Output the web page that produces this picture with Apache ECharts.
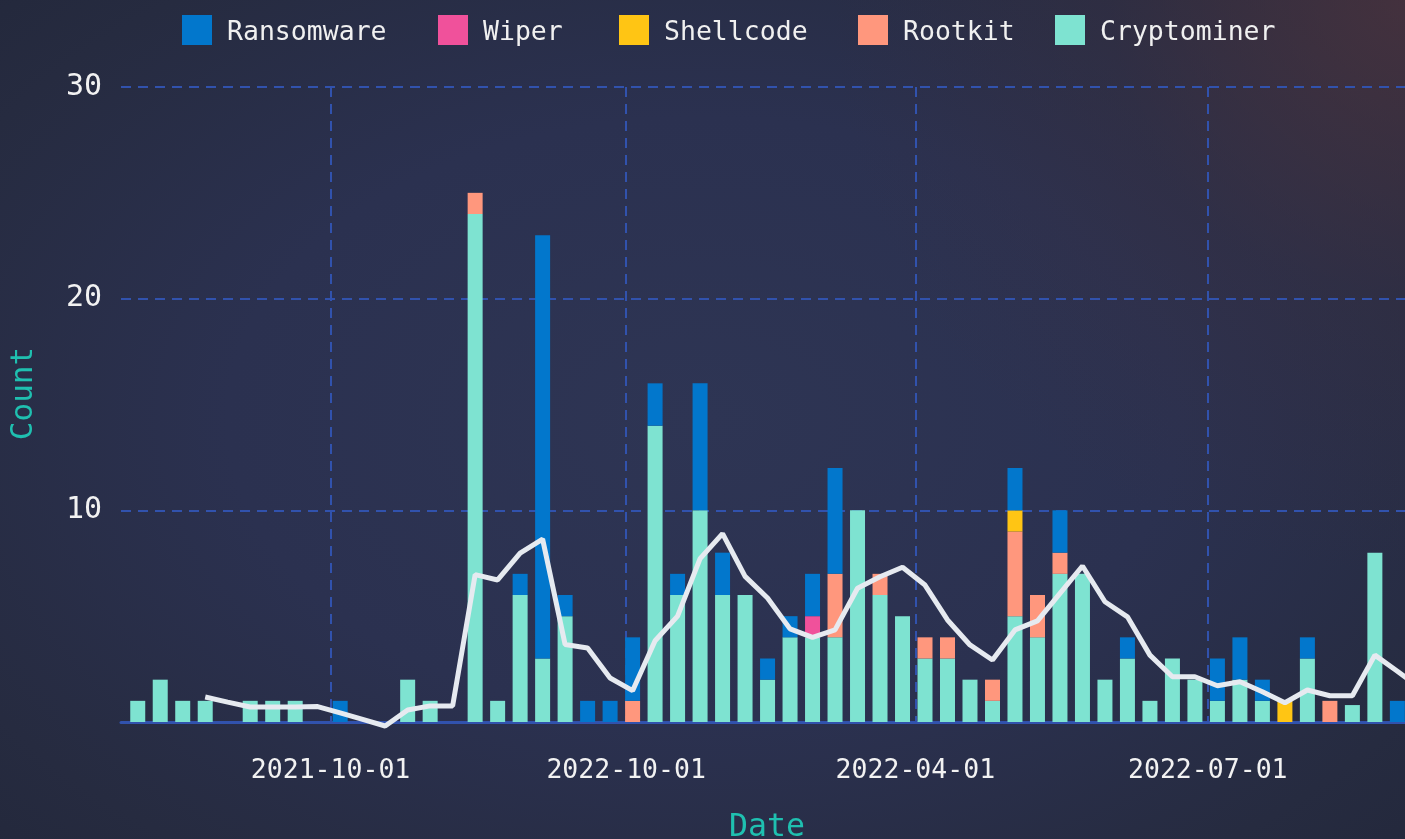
<!DOCTYPE html>
<html>
<head>
<meta charset="utf-8">
<script src="https://cdn.jsdelivr.net/npm/echarts@6/dist/echarts.min.js"></script>
<style>
  html, body { margin:0; padding:0; width:1405px; height:839px; overflow:hidden; }
  body {
    background:
      radial-gradient(circle at 100% 0%, rgba(78,52,62,0.75) 0%, rgba(60,48,64,0.35) 18%, rgba(0,0,0,0) 35%),
      radial-gradient(ellipse 75% 80% at 50% 50%, #2e3554 0%, #2b3150 45%, #262b40 80%, #22273a 100%);
  }
  #chart { width:1405px; height:839px; }
</style>
</head>
<body>
<div id="chart"></div>
<script>
// ---- Data ----
const weeks = [
  '2021-08-02','2021-08-09','2021-08-16','2021-08-23','2021-08-30','2021-09-06','2021-09-13','2021-09-20','2021-09-27',
  '2021-10-04','2021-10-11','2021-10-18','2021-10-25','2021-11-01','2021-11-08','2021-11-15','2021-11-22','2021-11-29',
  '2021-12-06','2021-12-13','2021-12-20','2021-12-27','2022-01-03','2022-01-10','2022-01-17','2022-01-24','2022-01-31',
  '2022-02-07','2022-02-14','2022-02-21','2022-02-28','2022-03-07','2022-03-14','2022-03-21','2022-03-28','2022-04-04',
  '2022-04-11','2022-04-18','2022-04-25','2022-05-02','2022-05-09','2022-05-16','2022-05-23','2022-05-30','2022-06-06',
  '2022-06-13','2022-06-20','2022-06-27','2022-07-04','2022-07-11','2022-07-18','2022-07-25','2022-08-01','2022-08-08',
  '2022-08-15','2022-08-22','2022-08-29'
];
const cryptominer = [1,2,1,1,0,1,1,1,0, 0,0,0,2,1,0,24,1,6, 3,5,0,0,0,14,6,10,6, 6,2,4,4,4,10,6,5,3, 3,2,1,5,4,7,7,2,3, 1,3,2,1,2,1,0,3,0, 0.8,8,0];
const rootkit     = [0,0,0,0,0,0,0,0,0, 0,0,0,0,0,0,1,0,0, 0,0,0,0,1,0,0,0,0, 0,0,0,0,3,0,1,0,1, 1,0,1,4,2,1,0,0,0, 0,0,0,0,0,0,0,0,1, 0,0,0];
const shellcode   = [0,0,0,0,0,0,0,0,0, 0,0,0,0,0,0,0,0,0, 0,0,0,0,0,0,0,0,0, 0,0,0,0,0,0,0,0,0, 0,0,0,1,0,0,0,0,0, 0,0,0,0,0,0,1,0,0, 0,0,0];
const wiper       = [0,0,0,0,0,0,0,0,0, 0,0,0,0,0,0,0,0,0, 0,0,0,0,0,0,0,0,0, 0,0,0,1,0,0,0,0,0, 0,0,0,0,0,0,0,0,0, 0,0,0,0,0,0,0,0,0, 0,0,0];
const ransomware  = [0,0,0,0,0,0,0,0,0, 1,0,0,0,0,0,0,0,1, 20,1,1,1,3,2,1,6,2, 0,1,1,2,5,0,0,0,0, 0,0,0,2,0,2,0,0,1, 0,0,0,2,2,1,0,1,0, 0,0,1];
// moving-average line (starts at week 2021-08-23)
const avgWeeks = [
  '2021-08-23','2021-08-30','2021-09-06','2021-09-13','2021-09-20','2021-09-27','2021-10-04','2021-10-11','2021-10-18',
  '2021-10-25','2021-11-01','2021-11-08','2021-11-15','2021-11-22','2021-11-29','2021-12-06','2021-12-13','2021-12-20',
  '2021-12-27','2022-01-03','2022-01-10','2022-01-17','2022-01-24','2022-01-31','2022-02-07','2022-02-14','2022-02-21',
  '2022-02-28','2022-03-07','2022-03-14','2022-03-21','2022-03-28','2022-04-04','2022-04-11','2022-04-18','2022-04-25',
  '2022-05-02','2022-05-09','2022-05-16','2022-05-23','2022-05-30','2022-06-06','2022-06-13','2022-06-20','2022-06-27',
  '2022-07-04','2022-07-11','2022-07-18','2022-07-25','2022-08-01','2022-08-08','2022-08-15','2022-08-22','2022-08-29',
  '2022-09-05'
];
const avgValues = [1.18,0.94,0.71,0.71,0.71,0.73,0.43,0.12,-0.19,
  0.57,0.76,0.76,6.96,6.71,7.98,8.64,3.66,3.5,
  2.08,1.48,3.84,5.0,7.72,8.9,6.88,5.86,4.4,
  4.0,4.35,6.32,6.86,7.31,6.47,4.82,3.64,2.93,
  4.35,4.78,6.08,7.37,5.68,4.97,3.16,2.14,2.14,
  1.71,1.9,1.43,0.91,1.51,1.24,1.24,3.16,2.4,
  1.6];
const tickDates  = ['2021-10-01','2022-01-01','2022-04-01','2022-07-01'];
const tickLabels = ['2021-10-01','2022-10-01','2022-04-01','2022-07-01'];
const yTicks = [0,10,20,30];
const legendNames = ['Ransomware','Wiper','Shellcode','Rootkit','Cryptominer'];

// ---- Chart ----
const P = (s) => { const [y,m,d] = s.split('-').map(Number); return Date.UTC(y, m-1, d); };
const tickTs = tickDates.map(P);
const FONT = 'DejaVu Sans Mono';
const colors = {
  Ransomware:'#0277cc', Wiper:'#f0519b', Shellcode:'#ffc514', Rootkit:'#ff977d', Cryptominer:'#7ee3d1'
};
const gridColor = '#3152ad';
const GRID_LEFT = 121, GRID_W = 1405 - GRID_LEFT, BAR_W = 15;
const xMin = P('2021-07-27') + 19*3600*1000;
const xMax = P('2022-08-31') + 9*3600*1000;
// ECharts widens a bar base axis by half a bar on each side; pre-shrink so the final extent is [xMin, xMax]
const shrink = (xMax - xMin) * (BAR_W / 2) / GRID_W;

function barSeries(name, arr){
  return {
    name, type:'bar', stack:'total', barWidth:BAR_W, xAxisIndex:0,
    itemStyle:{color:colors[name]},
    data: weeks.map((w,i)=>[P(w), arr[i]]),
    z:2
  };
}

const chart = echarts.init(document.getElementById('chart'), null, {renderer:'canvas'});
const legendLefts = [177, 433, 614, 853, 1050];
chart.setOption({
  backgroundColor:'transparent',
  animation:false,
  textStyle:{fontFamily:FONT},
  legend: legendNames.map((n,i)=>({
    data:[n], left:legendLefts[i], top:10, itemWidth:30, itemHeight:30, icon:'rect',
    formatter:(name)=>'{t|' + name + '}',
    textStyle:{color:'#f0f0f0', fontSize:26.5, fontFamily:FONT,
      rich:{t:{color:'#f0f0f0', fontSize:26.5, fontFamily:FONT, padding:[7,0,0,10]}}}
  })),
  grid:{left:GRID_LEFT, right:0, top:87, bottom:117, containLabel:false, outerBoundsMode:'none'},
  xAxis:[{
    type:'time', min:xMin + shrink, max:xMax - shrink, position:'bottom',
    axisLine:{show:true, onZero:false, lineStyle:{color:gridColor, width:3}},
    axisTick:{show:false}, axisLabel:{show:false}, splitLine:{show:false},
    name:'Date', nameLocation:'middle', nameGap:90,
    nameTextStyle:{color:'#1fc0b0', fontSize:31.5, fontFamily:FONT, padding:[0,0,0,8]}
  },{
    type:'value', min:xMin, max:xMax, position:'bottom', offset:0,
    axisLine:{show:false}, axisTick:{show:false, customValues: tickTs},
    axisLabel:{
      customValues: tickTs,
      formatter:(v)=>{ const k = tickTs.indexOf(v); return k>=0 ? tickLabels[k] : ''; },
      color:'#f2f2f2', fontSize:26.5, fontFamily:FONT, margin:36
    },
    splitLine:{show:true, lineStyle:{color:gridColor, width:2, type:[10,7]}}
  }],
  yAxis:{
    type:'value', min:yTicks[0], max:yTicks[yTicks.length-1], interval:10,
    axisLine:{show:false}, axisTick:{show:false},
    axisLabel:{formatter:(v)=> v===0 ? '' : String(v), color:'#f2f2f2', fontSize:30, fontFamily:FONT, margin:19},
    splitLine:{show:true, lineStyle:{color:gridColor, width:2, type:[10,7]}},
    name:'Count', nameLocation:'middle', nameGap:82,
    nameTextStyle:{color:'#1fc0b0', fontSize:31, fontFamily:FONT, padding:[0,0,0,22]}
  },
  series:[
    barSeries('Cryptominer', cryptominer),
    barSeries('Rootkit', rootkit),
    barSeries('Shellcode', shellcode),
    barSeries('Wiper', wiper),
    barSeries('Ransomware', ransomware),
    {
      name:'Average', type:'line', xAxisIndex:0, showSymbol:false, symbol:'none', clip:false,
      lineStyle:{color:'#e6eaf0', width:5}, itemStyle:{color:'#e6eaf0'},
      data: avgWeeks.map((w,i)=>[P(w), avgValues[i]]),
      z:5
    }
  ]
});
</script>
</body>
</html>
